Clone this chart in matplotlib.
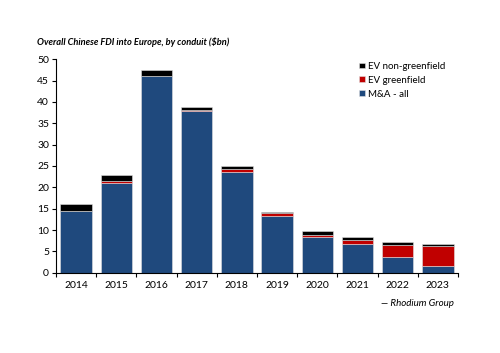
import matplotlib
matplotlib.use("Agg")
import matplotlib.pyplot as plt
import numpy as np

years = ["2014", "2015", "2016", "2017", "2018", "2019", "2020", "2021", "2022", "2023"]
ma_all = [14.4, 21.0, 46.0, 37.8, 23.7, 13.3, 8.4, 6.8, 3.6, 1.6]
ev_greenfield = [0.0, 0.4, 0.0, 0.4, 0.5, 0.6, 0.5, 0.9, 3.0, 4.7]
ev_nongreenfield = [1.6, 1.5, 1.5, 0.7, 0.7, 0.3, 0.9, 0.6, 0.6, 0.5]

plt.rcParams['font.family'] = ['Lato', 'DejaVu Sans']

fig = plt.figure(figsize=(5.0, 3.53), dpi=100)
ax = fig.add_axes([0.112, 0.2275, 0.804, 0.6045])

x = np.arange(len(years))
w = 0.78
blue = "#1F497D"
red = "#C00000"
black = "#000000"
ma = np.array(ma_all)
gf = np.array(ev_greenfield)
ng = np.array(ev_nongreenfield)
ec = "#e0e0e0"
lw = 0.4
b1 = ax.bar(x, ma, w, color=blue, edgecolor=ec, linewidth=lw, label="M&A - all")
b2 = ax.bar(x, gf, w, bottom=ma, color=red, edgecolor=ec, linewidth=lw, label="EV greenfield")
b3 = ax.bar(x, ng, w, bottom=ma + gf, color=black, edgecolor=ec, linewidth=lw, label="EV non-greenfield")

ax.set_xlim(-0.5, len(years) - 0.5)
ax.set_ylim(0, 50)
ax.set_yticks(np.arange(0, 51, 5))
ax.set_xticks(x)
ax.set_xticklabels(years)
ax.set_xticks(np.arange(-0.5, len(years), 1), minor=True)
ax.tick_params(axis='x', which='major', length=0, labelsize=7.5, pad=6)
ax.tick_params(axis='x', which='minor', length=3, width=0.8, direction='out')
ax.tick_params(axis='y', length=3, width=0.8, direction='out', labelsize=7.5, pad=2)
for s in ["top", "right"]:
    ax.spines[s].set_visible(False)
ax.spines["left"].set_linewidth(0.8)
ax.spines["bottom"].set_linewidth(0.8)

handles = [b3, b2, b1]
leg = ax.legend(handles, [h.get_label() for h in handles], loc="upper left",
                bbox_to_anchor=(0.74, 1.015), frameon=False, fontsize=7,
                handlelength=0.55, handleheight=0.55, handletextpad=0.35, labelspacing=0.5,
                borderaxespad=0.2)

fig.text(0.074, 0.88, "Overall Chinese FDI into Europe, by conduit ($bn)", fontsize=6.7,
         fontstyle='italic', fontweight='bold', ha='left', va='center')
fig.text(0.908, 0.14, "— Rhodium Group", fontsize=7, fontstyle='italic', ha='right', va='center')

fig.savefig("out.png", dpi=100)
